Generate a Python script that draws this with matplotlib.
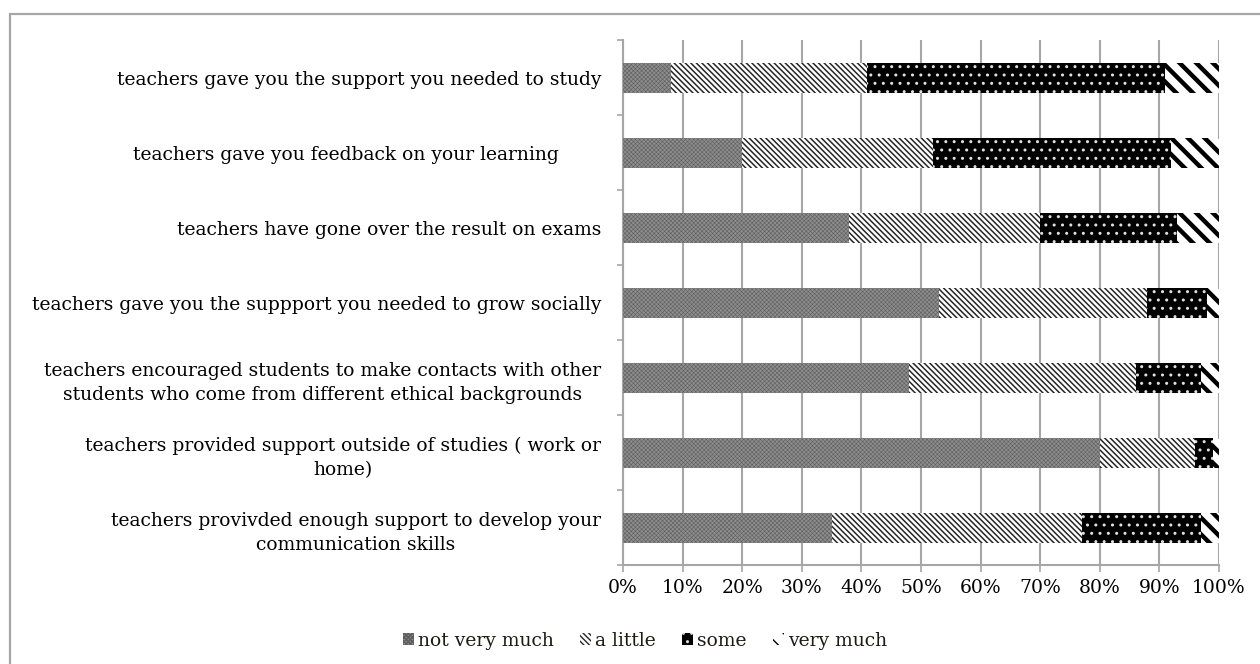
import matplotlib
matplotlib.use("Agg")
import matplotlib.pyplot as plt
from matplotlib.patches import Rectangle
import numpy as np

plt.rcParams["font.family"] = ["DejaVu Serif"]
plt.rcParams["font.size"] = 13.5
plt.rcParams["text.color"] = "#1e1a18"

categories = [
    "teachers gave you the support you needed to study",
    "teachers gave you feedback on your learning       ",
    "teachers have gone over the result on exams",
    "teachers gave you the suppport you needed to grow socially",
    "teachers encouraged students to make contacts with other\nstudents who come from different ethical backgrounds",
    "teachers provided support outside of studies ( work or\nhome)",
    "teachers provivded enough support to develop your\ncommunication skills",
]
series_names = ["not very much", "a little", "some", "very much"]
not_very_much = [8, 20, 38, 53, 48, 80, 35]
a_little = [33, 32, 32, 35, 38, 16, 42]
some = [50, 40, 23, 10, 11, 3, 20]
very_much = [9, 8, 7, 2, 3, 1, 3]
xtick_values = [0, 10, 20, 30, 40, 50, 60, 70, 80, 90, 100]
xtick_labels = [f"{v}%" for v in xtick_values]

series_values = [not_very_much, a_little, some, very_much]
# fill, hatch, hatch colour, hatch line width for each response
styles = [
    dict(facecolor="#8e8e8e", hatch="xxxxxxxx", edgecolor="#5e5e5e", hlw=0.4),
    dict(facecolor="white", hatch="\\" * 6, edgecolor="#262626", hlw=1.1),
    dict(facecolor="black", hatch="..", edgecolor="#e0e0e0", hlw=1.0),
    dict(facecolor="white", hatch="\\\\", edgecolor="black", hlw=3.2),
]

fig = plt.figure(figsize=(12.6, 6.64), dpi=100)
ax = fig.add_axes([623 / 1260, 1 - 565 / 664, (1219 - 623) / 1260, (565 - 40) / 664])

grid_col = "#a6a6a6"
y = np.arange(len(categories))
left = np.zeros(len(categories))
for name, vals, st in zip(series_names, series_values, styles):
    with plt.rc_context({"hatch.linewidth": st["hlw"]}):
        bars = ax.barh(y, vals, left=left, height=0.4, facecolor=st["facecolor"],
                       edgecolor=st["edgecolor"], hatch=st["hatch"], linewidth=0,
                       label=name, zorder=3)
    for b in bars:
        if hasattr(b, "set_hatch_linewidth"):
            b.set_hatch_linewidth(st["hlw"])
    left += np.array(vals)

ax.set_xlim(0, 100)
ax.set_ylim(len(categories) - 0.5, -0.5)

ax.set_xticks(xtick_values, xtick_labels)
ax.xaxis.grid(True, color=grid_col, linewidth=1.5, zorder=0)
ax.tick_params(axis="x", direction="out", length=5, width=1.2, color=grid_col, pad=5)

ax.set_yticks(y, categories)
ax.set_yticks(np.arange(len(categories) + 1) - 0.5, minor=True)
ax.tick_params(axis="y", which="major", length=0, pad=15.8)
ax.tick_params(axis="y", which="minor", direction="out", length=4, width=1.2, color=grid_col)
for lbl in ax.get_yticklabels():
    lbl.set_multialignment("center")
    lbl.set_linespacing(1.45)

for side in ("top", "right"):
    ax.spines[side].set_visible(False)
for side in ("left", "bottom"):
    ax.spines[side].set_color(grid_col)
    ax.spines[side].set_linewidth(1.5)
ax.set_axisbelow(True)

fig.legend(loc="center", bbox_to_anchor=(645 / 1260, 1 - 641 / 664), ncol=4, frameon=False,
           handlelength=0.6, handleheight=0.6, handletextpad=0.2, columnspacing=1.4,
           fontsize=13.5)

# chart area border
fig.add_artist(Rectangle((10 / 1260, -0.1), 1.2, 1.1 - 14 / 664, transform=fig.transFigure,
                         fill=False, edgecolor=grid_col, linewidth=1.6))

fig.savefig("out.png", dpi=100)
